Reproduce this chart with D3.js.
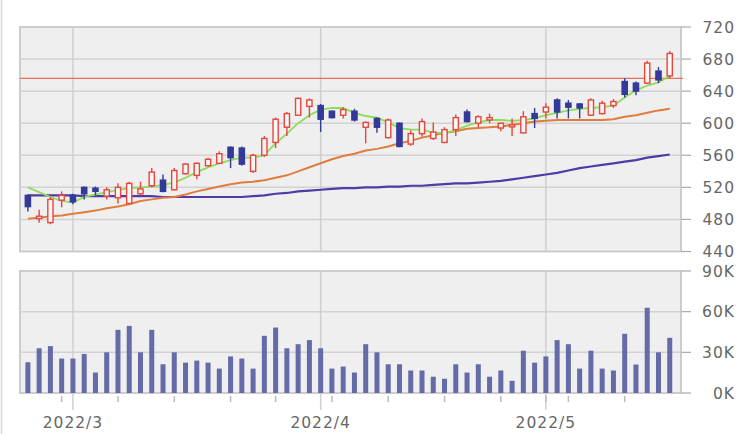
<!DOCTYPE html>
<html><head><meta charset="utf-8">
<script src="https://cdn.jsdelivr.net/npm/d3@7"></script>
<style>
html,body{margin:0;padding:0;background:#fff;}
svg{display:block;}
text{font-family:"DejaVu Sans",sans-serif;fill:#666;}
</style></head>
<body>
<svg id="c" width="750" height="434"></svg>
<script>
const dates = ["2022-02-22","2022-02-24","2022-02-25","2022-02-28","2022-03-01","2022-03-02","2022-03-03","2022-03-04","2022-03-07","2022-03-08","2022-03-09","2022-03-10","2022-03-11","2022-03-14","2022-03-15","2022-03-16","2022-03-17","2022-03-18","2022-03-22","2022-03-23","2022-03-24","2022-03-25","2022-03-28","2022-03-29","2022-03-30","2022-03-31","2022-04-01","2022-04-04","2022-04-05","2022-04-06","2022-04-07","2022-04-08","2022-04-11","2022-04-12","2022-04-13","2022-04-14","2022-04-15","2022-04-18","2022-04-19","2022-04-20","2022-04-21","2022-04-22","2022-04-25","2022-04-26","2022-04-27","2022-04-28","2022-05-02","2022-05-06","2022-05-09","2022-05-10","2022-05-11","2022-05-12","2022-05-13","2022-05-16","2022-05-17","2022-05-18","2022-05-19","2022-05-20"];
const open  = [510,481,476,504,510,520,519,509,507,500,512,522,529,517,537,535,547,550,570,569,540,560,576,595,610,621,622,615,610,615,595,606,582,600,574,587,581,576,592,614,600,604,594,597,588,612,614,629,625,624,610,612,622,652,650,650,665,659];
const high  = [511,492,508,515,512,521,521,520,525,527,527,544,536,544,550,551,557,565,571,571,562,584,607,614,632,631,624,616,620,618,602,607,606,601,591,606,601,595,611,617,610,612,601,606,615,619,625,631,629,625,631,628,630,656,652,678,670,690];
const low   = [490,476,474,495,499,505,510,505,500,499,510,520,514,516,536,530,546,549,544,547,538,558,569,584,609,607,589,606,606,602,575,588,581,570,572,583,579,575,584,601,595,600,590,584,587,594,606,606,606,606,609,611,619,632,635,649,650,656];
const close = [496,484,505,510,502,512,515,517,520,525,518,539,515,541,549,550,555,562,557,549,560,581,605,612,631,629,605,607,617,604,601,595,604,571,587,602,589,592,607,602,608,607,600,598,608,606,620,614,620,619,629,625,627,636,640,675,654,687];
const volume = [22700,33000,34600,25400,25400,28800,15100,30000,46600,49500,30000,46600,21200,30000,22400,23900,22400,18000,27000,25400,18000,42200,48300,33000,36000,39000,33000,18000,19500,15100,36000,30000,21200,21200,16600,16600,12000,10500,21200,15100,21200,12000,16600,9000,31200,22400,27000,39000,36000,18000,31200,18000,16600,43700,21000,62900,30000,40700];
const ma5  = [520,514,508,503,501,508,511,514,517,519,520,521,523,526,532,539,545,550,554,557,557,560,575,587,600,610,617,619,619,613,609,607,601,594,592,592,588,588,591,597,601,604,604,603,604,606,610,613,616,618,619,620,622,632,641,647,651,659];
const ma25 = [481,482,484,485,487,489,491,494,496,499,503,505,507,508,511,515,518,521,524,526,527,529,532,535,540,545,550,555,559,562,566,568,571,575,578,582,585,588,590,593,594,595,596,598,600,602,603,604,604,604,604,604,605,608,610,613,616,618];
const ma75 = [510,510,510,510,510,509,509,509,509,509,509,509,508,508,508,508,508,508,508,508,509,510,512,513,515,516,517,518,519,519,520,520,521,521,522,522,523,524,525,525,526,527,528,530,532,534,536,538,541,544,546,548,550,552,554,557,559,561];
const refPrice = 656;
const priceTicks = [440,480,520,560,600,640,680,720];
const volTicks = [0,30000,60000,90000];
const volTickLabels = ["0K","30K","60K","90K"];

const svg = d3.select("#c");
const L = 20, R = 681;
const P = {top:27, bottom:251.5};
const V = {top:271, bottom:393};

const x = d3.scaleLinear().domain([-0.7, 58]).range([L, R]);
const y = d3.scaleLinear().domain([440, 720]).range([P.bottom, P.top]);
const yv = d3.scaleLinear().domain([0, 90000]).range([V.bottom, V.top]);

const parse = d3.timeParse("%Y-%m-%d");
const dts = dates.map(parse);
const monthIdx = [], weekIdx = [];
dts.forEach((d,i)=>{
  if(i===0) return;
  if(d.getMonth()!==dts[i-1].getMonth()) monthIdx.push(i);
  if(+d3.timeMonday.floor(d)!==+d3.timeMonday.floor(dts[i-1])) weekIdx.push(i);
});

svg.append("line").attr("x1",1.5).attr("x2",1.5).attr("y1",0).attr("y2",434).attr("stroke","#d8d8d8").attr("stroke-width",1.5);

function panel(top,bottom){
  svg.append("rect").attr("x",L).attr("y",top).attr("width",R-L).attr("height",bottom-top)
    .attr("fill","#efefef").attr("stroke","#c8c8c8").attr("stroke-width",1.8);
}
panel(P.top,P.bottom);
panel(V.top,V.bottom);

const gp = svg.append("g");
priceTicks.forEach(t=>{
  if(t>440 && t<720) gp.append("line").attr("x1",L).attr("x2",R).attr("y1",y(t)).attr("y2",y(t)).attr("stroke","#d2d2d2").attr("stroke-width",1.5);
});
volTicks.forEach(t=>{
  if(t>0 && t<90000) gp.append("line").attr("x1",L).attr("x2",R).attr("y1",yv(t)).attr("y2",yv(t)).attr("stroke","#d2d2d2").attr("stroke-width",1.5);
});
monthIdx.forEach(i=>{
  gp.append("line").attr("x1",x(i)).attr("x2",x(i)).attr("y1",P.top).attr("y2",P.bottom).attr("stroke","#cfcfcf").attr("stroke-width",1.5);
  gp.append("line").attr("x1",x(i)).attr("x2",x(i)).attr("y1",V.top).attr("y2",410).attr("stroke","#cfcfcf").attr("stroke-width",1.5);
  svg.append("text").attr("x",x(i)).attr("y",428).attr("text-anchor","middle").attr("font-size",15.5).attr("letter-spacing",1).text(dts[i].getFullYear()+"/"+(dts[i].getMonth()+1));
});
weekIdx.forEach(i=>{
  svg.append("line").attr("x1",x(i)).attr("x2",x(i)).attr("y1",396).attr("y2",402).attr("stroke","#bbb").attr("stroke-width",1.5);
});

svg.append("line").attr("x1",L).attr("x2",R+2).attr("y1",y(refPrice)).attr("y2",y(refPrice)).attr("stroke","#e8705e").attr("stroke-width",1.2);

const line = arr => d3.line().x((d,i)=>x(i)).y(d=>y(d))(arr);
svg.append("path").attr("d",line(ma75)).attr("fill","none").attr("stroke","#4f3aa6").attr("stroke-width",2.2);
svg.append("path").attr("d",line(ma25)).attr("fill","none").attr("stroke","#e07c3e").attr("stroke-width",2);
svg.append("path").attr("d",line(ma5)).attr("fill","none").attr("stroke","#8ddc5a").attr("stroke-width",1.8);

const up = "#e6463c", dn = "#333a98";
const cg = svg.append("g");
dates.forEach((d,i)=>{
  const isUp = close[i] >= open[i];
  const c = isUp ? up : dn;
  const cx = x(i);
  cg.append("line").attr("x1",cx).attr("x2",cx).attr("y1",y(high[i])).attr("y2",y(low[i])).attr("stroke",c).attr("stroke-width",1.4);
  const top = y(Math.max(open[i],close[i])), bot = y(Math.min(open[i],close[i]));
  const h = Math.max(bot-top, 2);
  cg.append("rect").attr("x",cx-2.6).attr("y",top).attr("width",5.2).attr("height",h)
    .attr("fill", isUp ? "#fbf6f6" : dn).attr("stroke",c).attr("stroke-width",1.4);
});

svg.append("g").selectAll("rect").data(volume).join("rect")
  .attr("x",(d,i)=>x(i)-2.5).attr("width",5)
  .attr("y",d=>yv(d)).attr("height",d=>V.bottom-yv(d))
  .attr("fill","#656aa8");

const ax = svg.append("g");
priceTicks.forEach(t=>{
  ax.append("line").attr("x1",R).attr("x2",R+10).attr("y1",y(t)).attr("y2",y(t)).attr("stroke","#aaa").attr("stroke-width",1.2);
  ax.append("text").attr("x",735).attr("y",y(t)).attr("dy","0.36em").attr("text-anchor","end").attr("font-size",15.5).attr("letter-spacing",1).text(t);
});
volTicks.forEach((t,k)=>{
  ax.append("line").attr("x1",R).attr("x2",R+10).attr("y1",yv(t)).attr("y2",yv(t)).attr("stroke","#aaa").attr("stroke-width",1.2);
  ax.append("text").attr("x",735).attr("y",yv(t)).attr("dy","0.36em").attr("text-anchor","end").attr("font-size",15.5).attr("letter-spacing",1).text(volTickLabels[k]);
});
</script>
</body></html>
